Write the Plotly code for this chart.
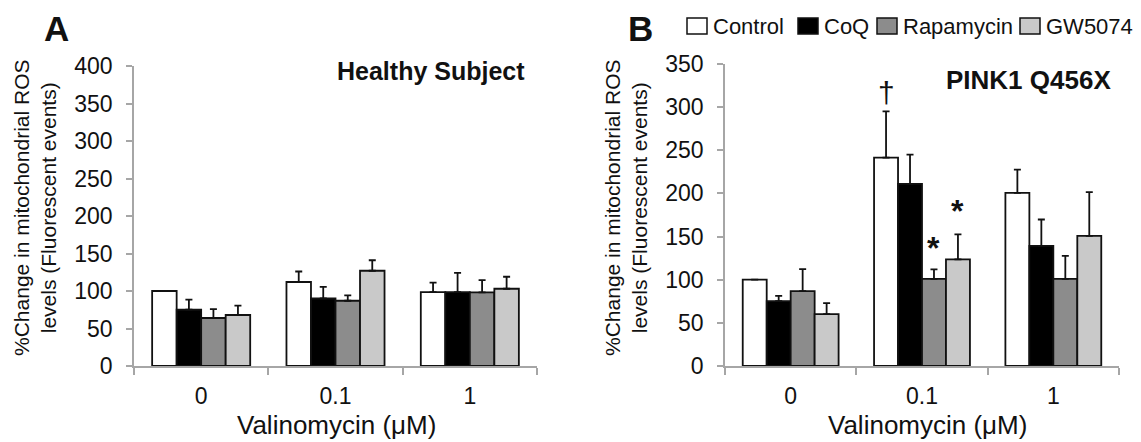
import plotly.graph_objects as go

categories = ["0", "0.1", "1"]
series_names = ["Control", "CoQ", "Rapamycin", "GW5074"]
series_colors = ["#ffffff", "#000000", "#8c8c8c", "#c9c9c9"]

# Panel A: Healthy Subject (means and upper error lengths)
healthy_mean = {
    "Control":   [100, 112, 98.6],
    "CoQ":       [75, 90, 98.6],
    "Rapamycin": [64, 87, 98.2],
    "GW5074":    [68, 127, 103],
}
healthy_err = {
    "Control":   [0, 14, 12.7],
    "CoQ":       [13.5, 15.5, 25.5],
    "Rapamycin": [11.8, 7.2, 16.2],
    "GW5074":    [12.5, 14, 16],
}

# Panel B: PINK1 Q456X
pink_mean = {
    "Control":   [100, 241.5, 200.6],
    "CoQ":       [75.2, 211, 139.3],
    "Rapamycin": [86.8, 101, 101],
    "GW5074":    [60.2, 123.5, 150.8],
}
pink_err = {
    "Control":   [0, 53.5, 27],
    "CoQ":       [6, 34, 30.5],
    "Rapamycin": [25.5, 11, 26.7],
    "GW5074":    [12.7, 29, 50.6],
}

# significance marks (panel B): (category, series, symbol, y)
sig_marks = [
    ("0.1", "Control", "†", 317),
    ("0.1", "Rapamycin", "*", 137),
    ("0.1", "GW5074", "*", 180),
]

FONT = "Liberation Sans, Arial, Helvetica, sans-serif"
BARGAP = 0.27
AXIS_GRAY = "#a6a6a6"

# The page body has an 8px default margin; size the figure to fit the window
OFF = 8
W, H = 1141 - 2 * OFF, 442 - OFF


def PX(x):
    return (x - OFF) / W


def PY(y):
    return 1 - (y - OFF) / H


fig = go.Figure()

for i, name in enumerate(series_names):
    fig.add_trace(go.Bar(
        x=categories, y=healthy_mean[name], name=name,
        marker=dict(color=series_colors[i], line=dict(color="#111111", width=1.8)),
        error_y=dict(type="data", symmetric=False, array=healthy_err[name],
                     arrayminus=[0] * len(categories), color="#111111",
                     thickness=1.8, width=3.5),
        xaxis="x", yaxis="y", showlegend=False,
    ))
for i, name in enumerate(series_names):
    fig.add_trace(go.Bar(
        x=categories, y=pink_mean[name], name=name,
        marker=dict(color=series_colors[i], line=dict(color="#111111", width=1.8)),
        error_y=dict(type="data", symmetric=False, array=pink_err[name],
                     arrayminus=[0] * len(categories), color="#111111",
                     thickness=1.8, width=3.5),
        xaxis="x2", yaxis="y2", showlegend=False,
    ))

yt = "%Change in mitochondrial ROS<br>levels (Fluorescent events)"
xt = "Valinomycin (μM)"

common_x = dict(
    type="category", showline=True, linecolor=AXIS_GRAY, linewidth=1.5,
    ticks="outside", tickson="boundaries", ticklen=7, tickcolor=AXIS_GRAY,
    tickwidth=1.5, tickfont=dict(size=23, color="#111"), ticklabelstandoff=9,
    showgrid=False, zeroline=False, automargin=False,
)
common_y = dict(
    showline=True, linecolor=AXIS_GRAY, linewidth=1.5, ticks="outside",
    ticklen=6, tickcolor=AXIS_GRAY, tickwidth=1.5,
    tickfont=dict(size=23, color="#111"), ticklabelstandoff=9,
    showgrid=False, zeroline=False, automargin=False,
)

fig.update_layout(
    width=W, height=H,
    margin=dict(l=0, r=0, t=0, b=0, autoexpand=False),
    paper_bgcolor="white", plot_bgcolor="white",
    font=dict(family=FONT, color="#111"),
    barmode="group", bargap=BARGAP, bargroupgap=0,
    showlegend=False,
    xaxis=dict(domain=[PX(134), PX(537)], anchor="y", **common_x),
    yaxis=dict(domain=[PY(366), PY(66)], anchor="x", range=[0, 400],
               dtick=50, **common_y),
    xaxis2=dict(domain=[PX(725), PX(1119)], anchor="y2", **common_x),
    yaxis2=dict(domain=[PY(366), PY(64)], anchor="x2", range=[0, 350],
                dtick=50, **common_y),
)

annotations = [
    dict(text="<b>A</b>", x=PX(42), y=PY(28), xref="paper", yref="paper",
         xanchor="left", yanchor="middle", showarrow=False, font=dict(size=35)),
    dict(text="<b>B</b>", x=PX(626), y=PY(28), xref="paper", yref="paper",
         xanchor="left", yanchor="middle", showarrow=False, font=dict(size=35)),
    dict(text="<b>Healthy Subject</b>", x=0.975, y=0.983, xref="x domain",
         yref="y domain", xanchor="right", yanchor="middle", showarrow=False,
         font=dict(size=25)),
    dict(text="<b>PINK1 Q456X</b>", x=0.985, y=0.947, xref="x2 domain",
         yref="y2 domain", xanchor="right", yanchor="middle", showarrow=False,
         font=dict(size=26)),
    # y-axis titles
    dict(text=yt, x=PX(35), y=PY(208), xref="paper", yref="paper",
         xanchor="center", yanchor="middle", textangle=-90, showarrow=False,
         font=dict(size=21, color="#111")),
    dict(text=yt, x=PX(626), y=PY(208), xref="paper", yref="paper",
         xanchor="center", yanchor="middle", textangle=-90, showarrow=False,
         font=dict(size=21, color="#111")),
    # x-axis titles
    dict(text=xt, x=PX(336), y=PY(425), xref="paper", yref="paper",
         xanchor="center", yanchor="middle", showarrow=False,
         font=dict(size=26, color="#111")),
    dict(text=xt, x=PX(927), y=PY(425), xref="paper", yref="paper",
         xanchor="center", yanchor="middle", showarrow=False,
         font=dict(size=26, color="#111")),
]

bar_w = (1 - BARGAP) / len(series_names)
for cat, ser, sym, yv in sig_marks:
    k = series_names.index(ser)
    xpos = categories.index(cat) + (k - (len(series_names) - 1) / 2) * bar_w
    annotations.append(dict(
        text=sym if sym != "*" else "<b>*</b>", x=xpos, y=yv, xref="x2", yref="y2",
        xanchor="center", yanchor="middle", showarrow=False,
        font=dict(size=30 if sym != "*" else 32),
    ))

# Legend drawn as key boxes + labels along the top of panel B
legend_box_left = [687, 798, 877, 1020]
legend_box_w, legend_box_top, legend_box_bot = 20, 18, 34
shapes = []
for i, name in enumerate(series_names):
    x0 = legend_box_left[i]
    shapes.append(dict(
        type="rect", xref="paper", yref="paper",
        x0=PX(x0), x1=PX(x0 + legend_box_w), y0=PY(legend_box_bot), y1=PY(legend_box_top),
        fillcolor=series_colors[i], line=dict(color="#111111", width=1.5),
    ))
    annotations.append(dict(
        text=name, x=PX(x0 + legend_box_w + 4), y=PY(26), xref="paper", yref="paper",
        xanchor="left", yanchor="middle", showarrow=False,
        font=dict(size=22, color="#111"),
    ))

fig.update_layout(annotations=annotations, shapes=shapes)
fig.write_html("out.html")
